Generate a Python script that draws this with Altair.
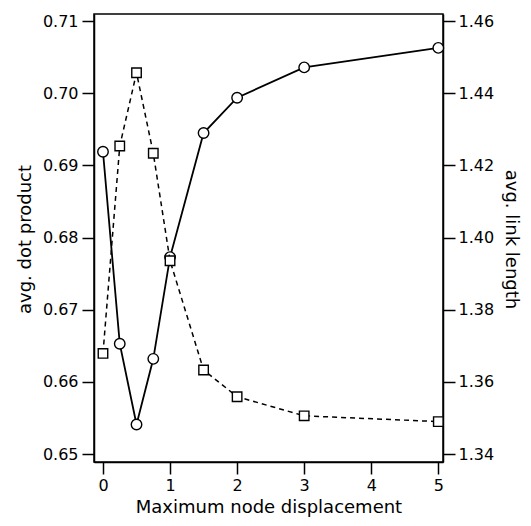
import altair as alt
import pandas as pd

# Data
x_vals = [0, 0.25, 0.5, 0.75, 1, 1.5, 2, 3, 5]
dot_product = [0.6919, 0.6653, 0.6541, 0.6632, 0.6773, 0.6945, 0.6994, 0.7036, 0.7063]
link_length = [1.3679, 1.4254, 1.4457, 1.4234, 1.3936, 1.3633, 1.3559, 1.3506, 1.3490]
x_ticks = [0, 1, 2, 3, 4, 5]
left_ticks = [0.65, 0.66, 0.67, 0.68, 0.69, 0.70, 0.71]
right_ticks = [1.34, 1.36, 1.38, 1.40, 1.42, 1.44, 1.46]

df = pd.DataFrame({"x": x_vals, "dot": dot_product, "link": link_length})

FONT = "DejaVu Sans"
common_axis = dict(
    labelFont=FONT, labelFontSize=16, labelColor="black",
    titleFont=FONT, titleFontSize=18, titleFontWeight="normal", titleColor="black",
    tickColor="black", tickWidth=1.5, tickSize=12,
    domainColor="black", domainWidth=1.5, grid=False,
)

x_enc = alt.X(
    "x:Q",
    scale=alt.Scale(domain=[-0.134, 5.07], nice=False, zero=False),
    axis=alt.Axis(values=x_ticks, title="Maximum node displacement", format="d",
                  labelPadding=3, titleY=50, titleBaseline="alphabetic", **common_axis),
)

y_left = alt.Y(
    "dot:Q",
    scale=alt.Scale(domain=[0.6489, 0.711], nice=False, zero=False),
    axis=alt.Axis(orient="left", values=left_ticks, format=".2f", title="avg. dot product",
                  labelPadding=4, titleX=-64, titleY=225, titleAngle=270,
                  titleBaseline="alphabetic", titleAlign="center", **common_axis),
)

y_right = alt.Y(
    "link:Q",
    scale=alt.Scale(domain=[1.3378, 1.462], nice=False, zero=False),
    axis=alt.Axis(orient="right", values=right_ticks, format=".2f", title="avg. link length",
                  labelPadding=3, titleX=62, titleY=225, titleAngle=90,
                  titleBaseline="alphabetic", titleAlign="center", **common_axis),
)

base = alt.Chart(df)

link_layer = alt.layer(
    base.mark_line(color="black", strokeWidth=1.5, strokeDash=[5, 4]).encode(x=x_enc, y=y_right),
    base.mark_point(shape="square", filled=True, fill="white", stroke="black",
                    strokeWidth=1.4, size=90, opacity=1).encode(x=x_enc, y=y_right),
)

dot_layer = alt.layer(
    base.mark_line(color="black", strokeWidth=1.8).encode(x=x_enc, y=y_left),
    base.mark_point(shape="circle", filled=True, fill="white", stroke="black",
                    strokeWidth=1.4, size=110, opacity=1).encode(x=x_enc, y=y_left),
)

chart = (
    alt.layer(dot_layer, link_layer)
    .resolve_scale(y="independent")
    .properties(
        width=349, height=448,
        autosize=alt.AutoSizeParams(type="none"),
        padding={"left": 86, "top": 6, "right": 80, "bottom": 56},
        background="white",
    )
    .configure_view(stroke="black", strokeWidth=1.5)
)

chart.save("out.html", embed_options={"renderer": "svg", "actions": False})
